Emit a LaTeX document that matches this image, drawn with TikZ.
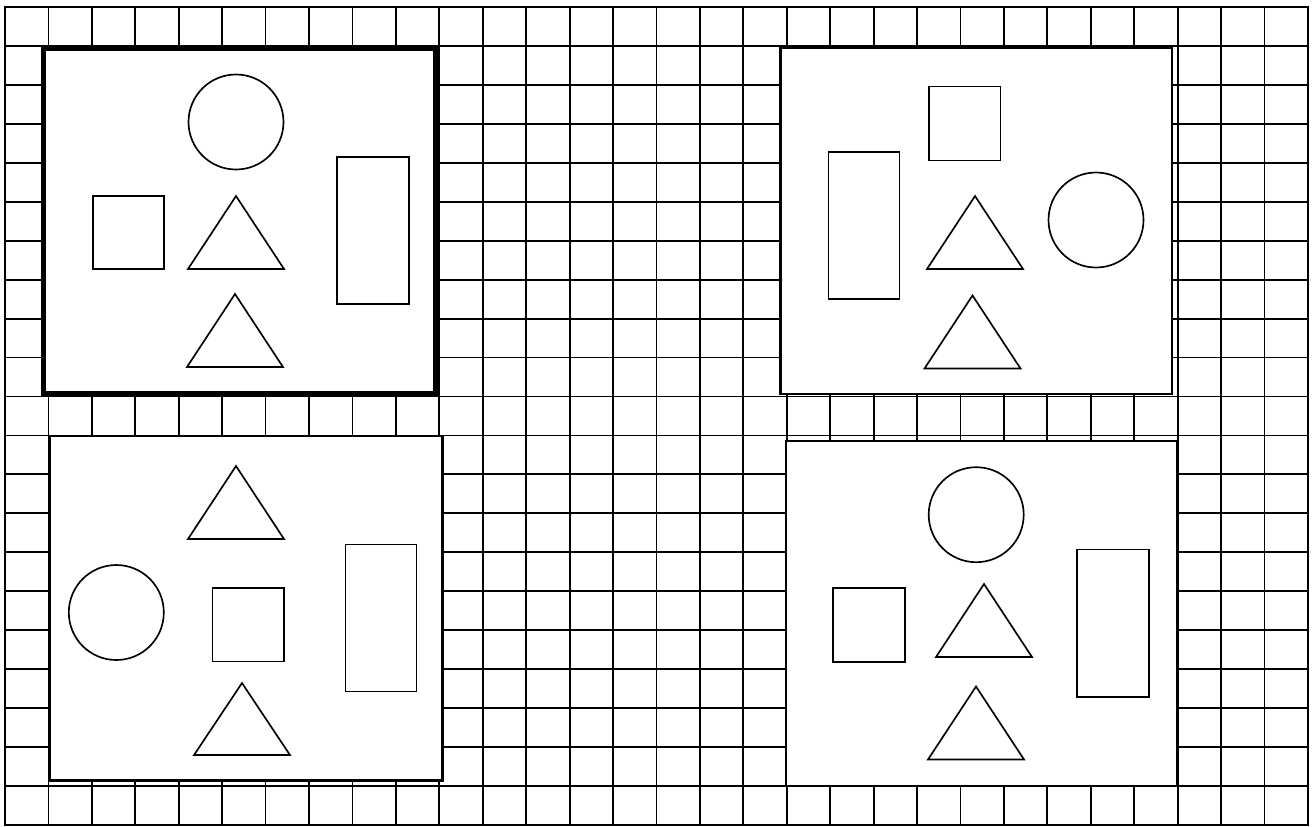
\documentclass[tikz,border=0pt]{standalone}
\usepackage{tikz}

\begin{document}
\begin{tikzpicture}[x=0.03cm, y=-0.03cm,
    gridline/.style={line width=0.055cm, line cap=rect},
    panel/.style={draw, fill=white, line width=0.065cm},
    outline/.style={draw, line width=0.05cm}]
    \useasboundingbox (0,0) rectangle (1316,826);

    % Grid
    \foreach \i in {0,...,30}
        \draw[gridline] (5+\i*43.43, 7) -- (5+\i*43.43, 825);
    \foreach \j in {0,...,21}
        \draw[gridline] (5, 7+\j*38.95) -- (1308, 7+\j*38.95);

    % Top-left panel
    \draw[panel, line width=0.15cm] (43.5,48) rectangle (435,393);
    \draw[outline] (236,122) circle[radius=47.5];
    \draw[outline] (93,196) rectangle (164,269);
    \draw[outline] (236,196) -- ++(48,73) -- ++(-96,0) -- cycle;
    \draw[outline] (235,294) -- ++(48,73) -- ++(-96,0) -- cycle;
    \draw[outline] (337,157) rectangle (409,304);

    % Top-right panel
    \draw[panel] (780.5,48.3) rectangle (1172.2,394.3);
    \draw[outline] (929,86.5) rectangle (1000.5,160.5);
    \draw[outline] (828.5,152) rectangle (899.5,299);
    \draw[outline] (975,196) -- ++(48,73) -- ++(-96,0) -- cycle;
    \draw[outline] (1096,220) circle[radius=47.5];
    \draw[outline] (972.5,295.5) -- ++(48,73) -- ++(-96,0) -- cycle;

    % Bottom-left panel
    \draw[panel] (49.5,436) rectangle (442.5,780.5);
    \draw[outline] (236,466) -- ++(48,73) -- ++(-96,0) -- cycle;
    \draw[outline] (116.3,612.5) circle[radius=47.5];
    \draw[outline] (212.5,588) rectangle (284,661.5);
    \draw[outline] (345.5,544.5) rectangle (416.5,691.5);
    \draw[outline] (242,683) -- ++(48,72) -- ++(-96,0) -- cycle;

    % Bottom-right panel
    \draw[panel] (786,441) rectangle (1177.5,786);
    \draw[outline] (976.2,514.7) circle[radius=47.5];
    \draw[outline] (833,588) rectangle (905,662);
    \draw[outline] (984,584) -- ++(48,73) -- ++(-96,0) -- cycle;
    \draw[outline] (1077,549.5) rectangle (1149,697);
    \draw[outline] (976,686.5) -- ++(48,73) -- ++(-96,0) -- cycle;
\end{tikzpicture}
\end{document}
